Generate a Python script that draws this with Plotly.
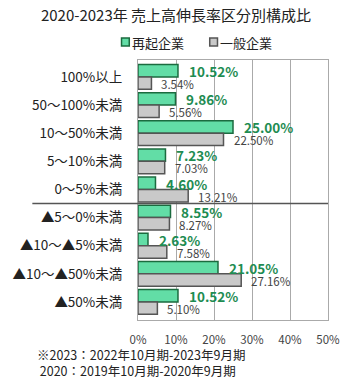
import plotly.graph_objects as go

categories = ["100%以上", "50～100%未満", "10～50%未満", "5～10%未満", "0～5%未満",
              "▲5～0%未満", "▲10～▲5%未満", "▲10～▲50%未満", "▲50%未満"]
saiki = [10.52, 9.86, 25.00, 7.23, 4.60, 8.55, 2.63, 21.05, 10.52]
ippan = [3.54, 5.56, 22.50, 7.03, 13.21, 8.27, 7.58, 27.16, 5.10]
series_names = ["再起企業", "一般企業"]
x_ticks = [0, 10, 20, 30, 40, 50]
x_ticklabels = ["0%", "10%", "20%", "30%", "40%", "50%"]

FONT = "Noto Sans CJK JP"
GREEN_FILL = "#62DDA6"
GREEN_LINE = "#1B6B3F"
GREEN_TEXT = "#1E8C52"
GREY_FILL = "#C9C9C9"
GREY_LINE = "#555555"

# plot area in pixels: x 136..332, y 60..320
PX_L, PX_R, PX_T, PX_B = 136, 332, 60, 320
def px_x(p):
    return (p - PX_L) / (PX_R - PX_L)
def px_y(p):
    return (PX_B - p) / (PX_B - PX_T)

fig = go.Figure()
fig.add_trace(go.Bar(y=categories, x=saiki, orientation="h", name=series_names[0],
                     marker=dict(color=GREEN_FILL, line=dict(color=GREEN_LINE, width=1.5)),
                     showlegend=False))
fig.add_trace(go.Bar(y=categories, x=ippan, orientation="h", name=series_names[1],
                     marker=dict(color=GREY_FILL, line=dict(color=GREY_LINE, width=1.5)),
                     showlegend=False))

annotations = []
for c, v in zip(categories, saiki):
    annotations.append(dict(x=v, y=c, xref="x", yref="y", text=f"{v:.2f}%", showarrow=False,
                            xanchor="left", yanchor="middle", xshift=9, yshift=6,
                            font=dict(family=FONT, size=13.5, color=GREEN_TEXT, weight="bold")))
for c, v in zip(categories, ippan):
    annotations.append(dict(x=v, y=c, xref="x", yref="y", text=f"{v:.2f}%", showarrow=False,
                            xanchor="left", yanchor="middle", xshift=8, yshift=-7,
                            font=dict(family=FONT, size=11.5, color="#444444")))

# footnote
annotations.append(dict(x=px_x(30), y=px_y(343), xref="paper", yref="paper", xanchor="left",
                        yanchor="top", showarrow=False, align="left",
                        text="※2023：2022年10月期-2023年9月期<br> 2020：2019年10月期-2020年9月期",
                        font=dict(family=FONT, size=12.5, color="#222222")))

# legend (custom, compact like the reference)
legend_items = [(series_names[0], GREEN_FILL, GREEN_LINE, 119),
                (series_names[1], GREY_FILL, GREY_LINE, 210)]
shapes = [dict(type="line", xref="paper", yref="y", x0=px_x(27), x1=1, y0=4.5, y1=4.5,
               line=dict(color="#555555", width=1.5))]
for name, fill, line, sx in legend_items:
    shapes.append(dict(type="rect", xref="paper", yref="paper",
                       x0=px_x(sx), x1=px_x(sx + 8), y0=px_y(46), y1=px_y(38),
                       fillcolor=fill, line=dict(color=line, width=1.5)))
    annotations.append(dict(x=px_x(sx + 9), y=px_y(42), xref="paper", yref="paper",
                            xanchor="left", yanchor="middle", showarrow=False, text=name,
                            font=dict(family=FONT, size=13, color="#222222")))

fig.update_layout(
    width=352, height=380,
    margin=dict(l=PX_L, r=352 - PX_R, t=PX_T, b=380 - PX_B),
    paper_bgcolor="white", plot_bgcolor="white",
    font=dict(family=FONT, color="#222222"),
    title=dict(text="2020-2023年 売上高伸長率区分別構成比", x=0.5, xanchor="center",
               y=1 - 16 / 380, yanchor="middle", font=dict(size=15, color="#222222")),
    barmode="group", bargap=0.12, bargroupgap=0,
    annotations=annotations,
    shapes=shapes,
)
fig.update_xaxes(range=[0, 50], tickvals=x_ticks, ticktext=x_ticklabels,
                 showgrid=True, gridcolor="#AAAAAA", gridwidth=1,
                 showline=True, linecolor="#AAAAAA", mirror=True, zeroline=False,
                 ticks="", ticklabelstandoff=9,
                 tickfont=dict(family=FONT, size=11.5, color="#444444"))
fig.update_yaxes(autorange="reversed", showline=True, linecolor="#AAAAAA", mirror=True,
                 ticks="", ticklabelstandoff=12,
                 tickfont=dict(family=FONT, size=13.5, color="#222222"))

fig.write_html("out.html")
